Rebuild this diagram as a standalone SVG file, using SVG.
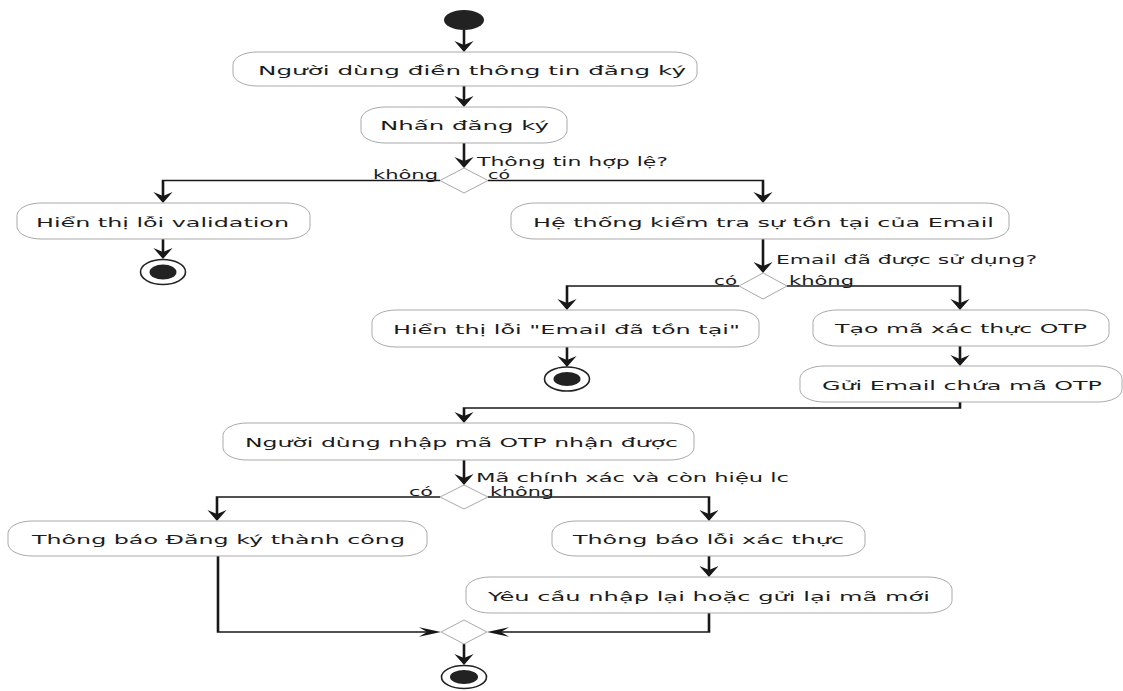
<svg xmlns="http://www.w3.org/2000/svg" width="1123" height="691" viewBox="0 0 1123 691">
  <style>
    .box { fill: #ffffff; stroke: #a9a9a9; stroke-width: 1; }
    .dia { fill: #ffffff; stroke: #a9a9a9; stroke-width: 1; }
    .lbl { font-family: "DejaVu Sans", "Noto Sans", sans-serif; font-size: 13px; fill: #1c1c1c; }
    .cond { font-family: "DejaVu Sans", "Noto Sans", sans-serif; font-size: 11.5px; fill: #1c1c1c; }
    .flow { fill: none; stroke: #181818; stroke-width: 1.3; }
    .dot { fill: #222222; }
    .ring { fill: #ffffff; stroke: #222222; stroke-width: 1.6; }
  </style>
  <defs>
    <!-- arrowhead drawn in the half-width connector space; the group scale widens it -->
    <marker id="ah" markerUnits="userSpaceOnUse" orient="auto" refX="-4" refY="0" markerWidth="30" markerHeight="30" overflow="visible">
      <path d="M0,0 L-11,-4.8 L-7,0 L-11,4.8 Z" fill="#181818"/>
    </marker>
  </defs>

  <rect width="1123" height="691" fill="#ffffff"/>

  <!-- connectors: coordinates are in a space squeezed 2x horizontally -->
  <g id="connectors" transform="scale(2 1)">
    <path class="flow" marker-end="url(#ah)" d="M232 30 V48"/>
    <path class="flow" marker-end="url(#ah)" d="M232 86 V103"/>
    <path class="flow" marker-end="url(#ah)" d="M232 143 V164"/>
    <path class="flow" marker-end="url(#ah)" d="M220 180.5 H81.5 V199"/>
    <path class="flow" marker-end="url(#ah)" d="M244 180.5 H381.5 V199"/>
    <path class="flow" marker-end="url(#ah)" d="M81.5 239 V255"/>
    <path class="flow" marker-end="url(#ah)" d="M381.5 239 V269"/>
    <path class="flow" marker-end="url(#ah)" d="M369.5 286 H283.5 V306"/>
    <path class="flow" marker-end="url(#ah)" d="M393.5 286 H480 V306"/>
    <path class="flow" marker-end="url(#ah)" d="M283.5 347 V363"/>
    <path class="flow" marker-end="url(#ah)" d="M480 346 V362"/>
    <path class="flow" marker-end="url(#ah)" d="M480 402 V408 H232 V419"/>
    <path class="flow" marker-end="url(#ah)" d="M232 460 V481"/>
    <path class="flow" marker-end="url(#ah)" d="M220 497 H108.5 V517"/>
    <path class="flow" marker-end="url(#ah)" d="M244 497 H354.5 V517"/>
    <path class="flow" marker-end="url(#ah)" d="M354.5 556 V573"/>
    <path class="flow" marker-end="url(#ah)" d="M109 556 V632 H216.5"/>
    <path class="flow" marker-end="url(#ah)" d="M354.5 613 V632 H247.5"/>
    <path class="flow" marker-end="url(#ah)" d="M232 644 V661"/>
  </g>

  <g id="start">
    <ellipse class="dot" cx="464" cy="20" rx="20" ry="10"/>
  </g>

  <g id="fill-in">
    <rect class="box" x="233" y="52" width="464" height="34" rx="24" ry="12.5"/>
    <text class="lbl" x="258" y="74.5" textLength="428" lengthAdjust="spacingAndGlyphs">Người dùng điền thông tin đăng ký</text>
  </g>

  <g id="submit">
    <rect class="box" x="361" y="107" width="206" height="36" rx="24" ry="12.5"/>
    <text class="lbl" x="380" y="130" textLength="169" lengthAdjust="spacingAndGlyphs">Nhấn đăng ký</text>
  </g>

  <g id="check-valid">
    <polygon class="dia" points="464,168 488,180.5 464,193 440,180.5"/>
    <text class="cond" x="477" y="166" textLength="191" lengthAdjust="spacingAndGlyphs">Thông tin hợp lệ?</text>
    <text class="cond" x="373" y="178.5" textLength="65" lengthAdjust="spacingAndGlyphs">không</text>
    <text class="cond" x="488" y="179" textLength="22" lengthAdjust="spacingAndGlyphs">có</text>
  </g>

  <g id="validation-error">
    <rect class="box" x="17" y="203" width="293" height="36" rx="24" ry="12.5"/>
    <text class="lbl" x="36" y="226.5" textLength="253" lengthAdjust="spacingAndGlyphs">Hiển thị lỗi validation</text>
  </g>

  <g id="end-validation">
    <ellipse class="ring" cx="163" cy="272" rx="22.5" ry="12.5"/>
    <ellipse class="dot" cx="163" cy="272" rx="13.5" ry="7.5"/>
  </g>

  <g id="check-email">
    <rect class="box" x="511" y="203" width="498" height="36" rx="24" ry="12.5"/>
    <text class="lbl" x="533" y="226.5" textLength="461" lengthAdjust="spacingAndGlyphs">Hệ thống kiểm tra sự tồn tại của Email</text>
  </g>

  <g id="email-used">
    <polygon class="dia" points="763,273 787,286 763,299 739,286"/>
    <text class="cond" x="776" y="264" textLength="261" lengthAdjust="spacingAndGlyphs">Email đã được sử dụng?</text>
    <text class="cond" x="714" y="284.5" textLength="23" lengthAdjust="spacingAndGlyphs">có</text>
    <text class="cond" x="789" y="284.5" textLength="65" lengthAdjust="spacingAndGlyphs">không</text>
  </g>

  <g id="email-exists">
    <rect class="box" x="372" y="310" width="387" height="37" rx="24" ry="12.5"/>
    <text class="lbl" x="393" y="333.5" textLength="347" lengthAdjust="spacingAndGlyphs">Hiển thị lỗi "Email đã tồn tại"</text>
  </g>

  <g id="end-email">
    <ellipse class="ring" cx="567" cy="379" rx="22.5" ry="12"/>
    <ellipse class="dot" cx="567" cy="379" rx="13.5" ry="7"/>
  </g>

  <g id="create-otp">
    <rect class="box" x="813" y="310" width="296" height="36" rx="24" ry="12.5"/>
    <text class="lbl" x="835" y="333" textLength="252" lengthAdjust="spacingAndGlyphs">Tạo mã xác thực OTP</text>
  </g>

  <g id="send-otp">
    <rect class="box" x="800" y="366" width="322" height="36" rx="24" ry="12.5"/>
    <text class="lbl" x="822" y="389.5" textLength="280" lengthAdjust="spacingAndGlyphs">Gửi Email chứa mã OTP</text>
  </g>

  <g id="enter-otp">
    <rect class="box" x="223" y="423" width="471" height="37" rx="24" ry="12.5"/>
    <text class="lbl" x="245" y="447" textLength="433" lengthAdjust="spacingAndGlyphs">Người dùng nhập mã OTP nhận được</text>
  </g>

  <g id="otp-valid">
    <polygon class="dia" points="464,485 488,497 464,509 440,497"/>
    <text class="cond" x="476" y="481.5" textLength="313" lengthAdjust="spacingAndGlyphs">Mã chính xác và còn hiệu lc</text>
    <text class="cond" x="409" y="495.5" textLength="24" lengthAdjust="spacingAndGlyphs">có</text>
    <text class="cond" x="490" y="495.5" textLength="64" lengthAdjust="spacingAndGlyphs">không</text>
  </g>

  <g id="register-ok">
    <rect class="box" x="8" y="521" width="419" height="35" rx="24" ry="12.5"/>
    <text class="lbl" x="32" y="544" textLength="373" lengthAdjust="spacingAndGlyphs">Thông báo Đăng ký thành công</text>
  </g>

  <g id="otp-error">
    <rect class="box" x="552" y="521" width="313" height="35" rx="24" ry="12.5"/>
    <text class="lbl" x="573" y="544" textLength="271" lengthAdjust="spacingAndGlyphs">Thông báo lỗi xác thực</text>
  </g>

  <g id="retry">
    <rect class="box" x="466" y="577" width="486" height="36" rx="24" ry="12.5"/>
    <text class="lbl" x="488" y="600.5" textLength="442" lengthAdjust="spacingAndGlyphs">Yêu cầu nhập lại hoặc gửi lại mã mới</text>
  </g>

  <g id="merge">
    <polygon class="dia" points="464,620 487,632 464,644 441,632"/>
  </g>

  <g id="end">
    <ellipse class="ring" cx="464" cy="677" rx="22.5" ry="11.5"/>
    <ellipse class="dot" cx="464" cy="677" rx="14" ry="7"/>
  </g>
</svg>
